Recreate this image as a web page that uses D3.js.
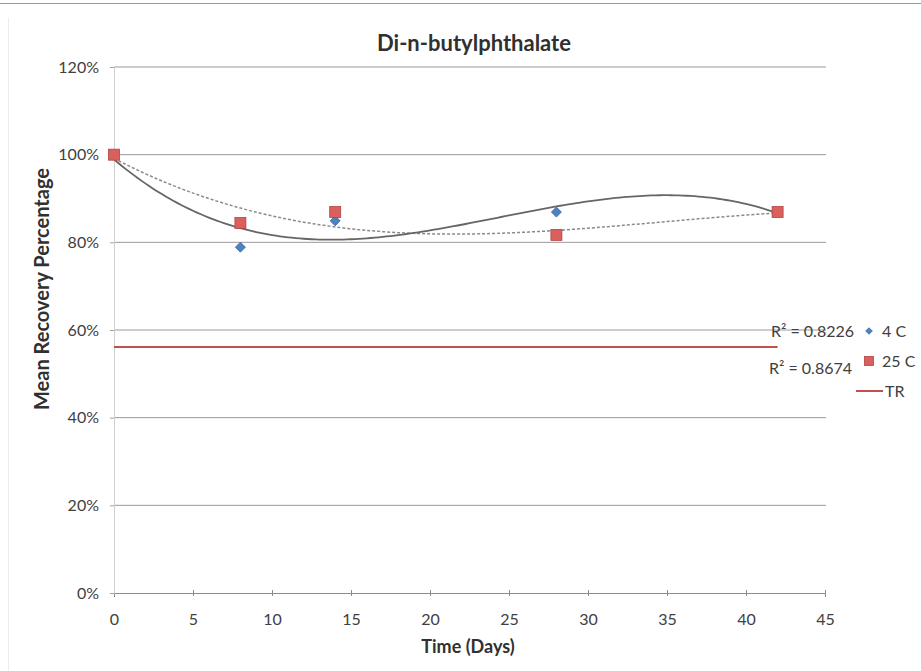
<!DOCTYPE html>
<html><head><meta charset="utf-8">
<script src="https://cdn.jsdelivr.net/npm/d3@7"></script>
<style>
body{margin:0;background:#fff;}
</style></head><body>
<svg id="c" width="921" height="671" font-family="Lato, 'Liberation Sans', sans-serif"></svg>
<script>
const days = [0, 8, 14, 28, 42];
const series4C = [100, 78.9, 84.9, 86.9, 86.9];
const series25C = [100, 84.4, 86.9, 81.7, 86.9];
const trValue = 56.1;
const trDays = [0, 42];
const xTicks = [0, 5, 10, 15, 20, 25, 30, 35, 40, 45];
const yTicks = [0, 20, 40, 60, 80, 100, 120];
const r2Labels = ["R\u00b2 = 0.8226", "R\u00b2 = 0.8674"];
const legendNames = ["4 C", "25 C", "TR"];

const svg = d3.select("#c");
const x = d3.scaleLinear().domain([0, 45]).range([114, 825]);
const y = d3.scaleLinear().domain([0, 120]).range([593, 67]);
const FONT = "Lato, 'Liberation Sans', sans-serif";

// scan frame remnants
svg.append("line").attr("x1",0).attr("x2",921).attr("y1",3.5).attr("y2",3.5).attr("stroke","#9a9a9a").attr("stroke-width",1);
svg.append("line").attr("x1",8.5).attr("x2",8.5).attr("y1",18).attr("y2",671).attr("stroke","#ececec").attr("stroke-width",1);

// gridlines
svg.append("g").selectAll("line").data(yTicks.filter(d=>d>0)).join("line")
  .attr("x1", x(0)).attr("x2", x(45)+1).attr("y1", d=>y(d)).attr("y2", d=>y(d))
  .attr("stroke", "#9a9a9a").attr("stroke-width", 1);

// axes
const gx = svg.append("g").attr("transform", `translate(0,${y(0)})`)
  .call(d3.axisBottom(x).tickValues(xTicks).tickSize(4).tickFormat(d=>d));
gx.attr("font-family", FONT);
gx.select(".domain").attr("stroke","#8c8c8c");
gx.selectAll(".tick line").attr("stroke","#8c8c8c").attr("y1",-3).attr("y2",3);
gx.selectAll(".tick text").attr("y", 0).attr("dy", 32).attr("font-size", 16).attr("fill", "#404040");

const gy = svg.append("g").attr("transform", `translate(${x(0)},0)`)
  .call(d3.axisLeft(y).tickValues(yTicks).tickSize(4).tickFormat(d=>d+"%"));
gy.attr("font-family", FONT);
gy.select(".domain").attr("stroke","#d0d0d0");
gy.selectAll(".tick line").attr("stroke","#a0a0a0");
gy.selectAll(".tick text").attr("x", -15).attr("font-size", 16).attr("fill", "#404040");

// polynomial (cubic) least-squares trendlines, as in the source chart
function polyfit(xs, ys, order){
  const n = order+1;
  const A = Array.from({length:n},()=>Array(n+1).fill(0));
  for(let i=0;i<n;i++){
    for(let j=0;j<n;j++) A[i][j] = d3.sum(xs, xv=>Math.pow(xv, i+j));
    A[i][n] = d3.sum(xs.map((xv,k)=>Math.pow(xv,i)*ys[k]));
  }
  for(let i=0;i<n;i++){
    let p=i; for(let r=i+1;r<n;r++) if(Math.abs(A[r][i])>Math.abs(A[p][i])) p=r;
    [A[i],A[p]]=[A[p],A[i]];
    for(let r=0;r<n;r++){ if(r===i) continue; const f=A[r][i]/A[i][i]; for(let c=i;c<=n;c++) A[r][c]-=f*A[i][c]; }
  }
  return A.map((row,i)=>row[n]/row[i]);
}
const evalPoly=(c,xv)=>c.reduce((s,ci,i)=>s+ci*Math.pow(xv,i),0);
const c4 = polyfit(days, series4C, 3);
const c25 = polyfit(days, series25C, 3);
const xs = d3.range(0, 42.01, 0.25);
const line = d3.line().x(d=>x(d[0])).y(d=>y(d[1]));

svg.append("path").attr("d", line(xs.map(v=>[v, evalPoly(c25,v)])))
  .attr("fill","none").attr("stroke","#8a8a8a").attr("stroke-width",1.5).attr("stroke-dasharray","3,2");
svg.append("path").attr("d", line(xs.map(v=>[v, evalPoly(c4,v)])))
  .attr("fill","none").attr("stroke","#666").attr("stroke-width",1.8);

// TR line
svg.append("line").attr("x1", x(trDays[0])).attr("x2", x(trDays[1]))
  .attr("y1", y(trValue)).attr("y2", y(trValue)).attr("stroke", "#c0504d").attr("stroke-width", 2);

// markers
svg.append("g").selectAll("path").data(days.map((d,i)=>[d, series4C[i]])).join("path")
  .attr("d", d3.symbol(d3.symbolSquare, 50)())
  .attr("transform", d=>`translate(${x(d[0])},${y(d[1])}) rotate(45)`)
  .attr("fill","#4f81bd").attr("stroke","#3a6aa8").attr("stroke-width",0.8);
svg.append("g").selectAll("rect").data(days.map((d,i)=>[d, series25C[i]])).join("rect")
  .attr("x", d=>x(d[0])-5.5).attr("y", d=>y(d[1])-5.5).attr("width",11).attr("height",11)
  .attr("fill","#d9605d").attr("stroke","#b04542").attr("stroke-width",0.8);

// titles
svg.append("text").attr("x", 474).attr("y", 51).attr("text-anchor","middle")
  .attr("font-size", 22).attr("font-weight","bold").attr("fill","#303030").text("Di-n-butylphthalate");
svg.append("text").attr("transform","translate(49,289) rotate(-90)").attr("text-anchor","middle")
  .attr("font-size", 20).attr("font-weight","bold").attr("fill","#303030").text("Mean Recovery Percentage");
svg.append("text").attr("x", 468).attr("y", 653).attr("text-anchor","middle")
  .attr("font-size", 18).attr("font-weight","bold").attr("fill","#303030").text("Time (Days)");

// R² labels
svg.append("text").attr("x", 854).attr("y", 337).attr("text-anchor","end").attr("font-size",16).attr("fill","#404040").text(r2Labels[0]);
svg.append("text").attr("x", 852).attr("y", 374).attr("text-anchor","end").attr("font-size",16).attr("fill","#404040").text(r2Labels[1]);

// legend
const lg = svg.append("g");
lg.append("path").attr("d", d3.symbol(d3.symbolSquare, 30)()).attr("transform","translate(869,331) rotate(45)").attr("fill","#4f81bd");
lg.append("text").attr("x", 882).attr("y", 337).attr("font-size",16).attr("fill","#404040").text(legendNames[0]);
lg.append("rect").attr("x",864.5).attr("y",356.5).attr("width",9).attr("height",9).attr("fill","#d9605d").attr("stroke","#b04542").attr("stroke-width",0.8);
lg.append("text").attr("x", 882).attr("y", 367).attr("font-size",16).attr("fill","#404040").text(legendNames[1]);
lg.append("line").attr("x1",856).attr("x2",883).attr("y1",391).attr("y2",391).attr("stroke","#c0504d").attr("stroke-width",2);
lg.append("text").attr("x", 885).attr("y", 397).attr("font-size",16).attr("fill","#404040").text(legendNames[2]);
</script></body></html>
